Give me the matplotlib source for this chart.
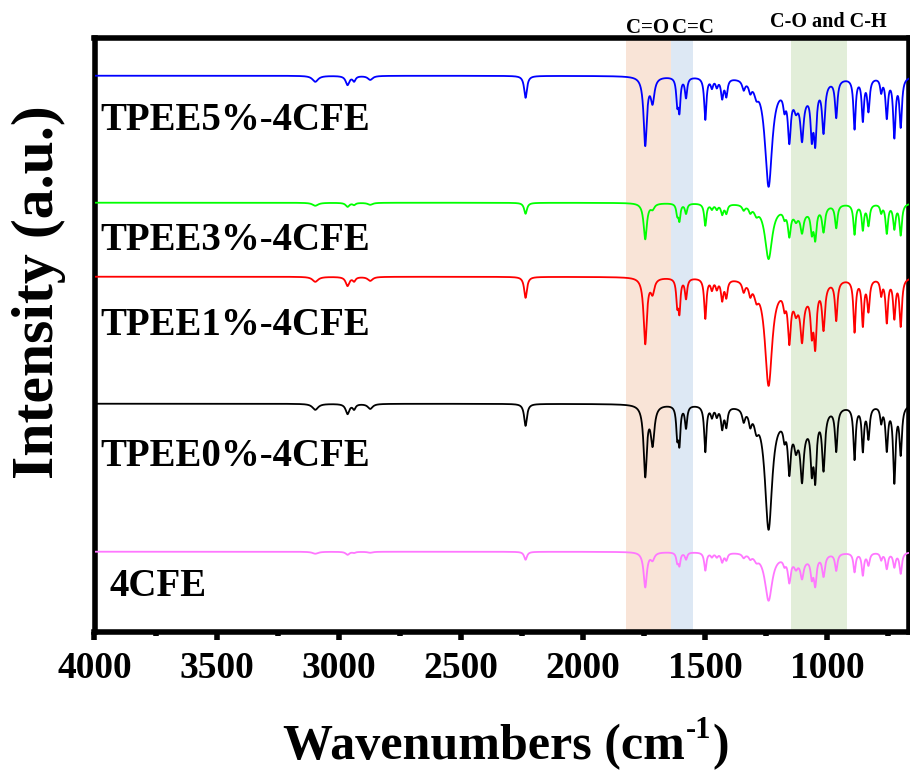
import numpy as np
import matplotlib
matplotlib.use("Agg")
import matplotlib.pyplot as plt

plt.rcParams['font.family'] = ['Liberation Serif', 'DejaVu Serif']
plt.rcParams['font.weight'] = 'bold'

# ---- data -----------------------------------------------------------------
samples = ["TPEE5%-4CFE", "TPEE3%-4CFE", "TPEE1%-4CFE", "TPEE0%-4CFE", "4CFE"]
colors = ["#0000ff", "#00ff00", "#ff0000", "#000000", "#ff77ff"]
baselines = [556, 429, 355, 228, 80]

# absorption bands (cm-1) and half widths; last entry is the broad fingerprint envelope
band_centers = [3096, 2964, 2937, 2871, 2235, 1745, 1715, 1614, 1605, 1578,
                1499, 1472, 1452, 1430, 1413, 1342, 1315, 1290, 1240, 1175,
                1155, 1128, 1103, 1063, 1049, 1015, 963, 888, 854, 831,
                779, 756, 725, 699, 1110]
band_hwhm = [14, 9, 7, 12, 7, 8, 9, 5, 5, 5.5,
             5.5, 6, 6, 6, 6, 7, 7, 10, 18, 6,
             7, 8, 7.5, 6, 6.5, 7, 6, 5.5, 5.5, 6,
             5, 6, 6, 6, 60]

depth_tpee5 = [6, 9, 5, 4, 22, 68, 24, 24, 31, 20,
               42, 9, 8, 19, 17, 9, 9, 10, 106, 15,
               47, 10, 40, 42, 51, 48, 37, 50, 41, 32,
               13, 39, 58, 48, 21]
depth_tpee3 = [3, 4, 2, 2, 11, 36, 5, 10, 16, 10,
               22, 5, 5, 10, 9, 5, 6, 7, 54, 7,
               25, 7, 19, 21, 29, 25, 23, 30, 25, 21,
               8, 29, 24, 31, 9]
depth_tpee1 = [5, 9, 4, 4, 21, 66, 14, 24, 31, 20,
               40, 10, 9, 20, 17, 10, 11, 12, 104, 13,
               47, 12, 40, 37, 54, 44, 39, 52, 45, 31,
               15, 43, 38, 47, 21]
depth_tpee0 = [6, 10, 5, 5, 22, 70, 38, 28, 35, 22,
               46, 10, 9, 21, 19, 12, 13, 14, 120, 14,
               47, 17, 48, 44, 57, 56, 42, 52, 43, 31,
               15, 43, 75, 47, 25]
depth_4cfe = [2, 3, 1, 1, 8, 35, 7, 9, 12, 7,
              18, 4, 4, 9, 7, 4, 4, 5, 47, 6,
              23, 7, 17, 18, 27, 21, 17, 19, 22, 12,
              7, 16, 14, 21, 8]
depths = [depth_tpee5, depth_tpee3, depth_tpee1, depth_tpee0, depth_4cfe]

# shaded assignment regions (cm-1)
region_bounds = [(1825, 1640), (1640, 1548), (1150, 920)]
region_colors = ["#f9e4d7", "#dde8f4", "#e2eed9"]

x_max, x_min = 4000, 665

# ---- figure -----------------------------------------------------------------
W, H = 910, 772
fig = plt.figure(figsize=(W / 100, H / 100), dpi=100)
ax = fig.add_axes([94.5 / W, 1 - 631.7 / H, (909 - 94.5) / W, 593.7 / H])

wn = np.linspace(x_max, x_min, 8000)
centers = np.array(band_centers, float)[:, None]
hw = np.array(band_hwhm, float)[:, None]
profiles = 1.0 / (1.0 + ((wn[None, :] - centers) / hw) ** 2)

for (a, b), c in zip(region_bounds, region_colors):
    ax.axvspan(b, a, color=c, lw=0, zorder=0)

for name, col, base, dep in zip(samples, colors, baselines, depths):
    y = base - np.array(dep, float) @ profiles
    ax.plot(wn, y, color=col, lw=1.3, zorder=3)

ax.set_xlim(x_max, x_min)
ax.set_ylim(0, 593.7)
ax.set_xticks(np.arange(4000, 999, -500))
ax.set_xticks(np.arange(3750, 700, -500), minor=True)
ax.set_yticks([])
ax.tick_params(axis='x', which='major', direction='out', length=6, width=4,
               labelsize=27, pad=8)
ax.tick_params(axis='x', which='minor', direction='out', length=3, width=4)
for s in ax.spines.values():
    s.set_linewidth(4)

# sample labels
label_pos = [(100, 130), (100, 250), (100, 335), (100, 466), (110, 596)]
for name, (px, py) in zip(samples, label_pos):
    fig.text(px / W, 1 - py / H, name, fontsize=28, ha='left', va='baseline')

fig.text(647.5 / W, 1 - 33.3 / H, "C=O", fontsize=15, ha='center', va='baseline')
fig.text(693 / W, 1 - 33.3 / H, "C=C", fontsize=15, ha='center', va='baseline')
fig.text(828 / W, 1 - 26.7 / H, "C-O and C-H", fontsize=14.5, ha='center', va='baseline')

fig.text(38.5 / W, 1 - 292 / H, "Intensity (a.u.)", fontsize=43, rotation=90,
         ha='center', va='center')

# x label with a small raised "-1"
renderer = fig.canvas.get_renderer()
xl_main = fig.text(0, 1 - 759 / H, "Wavenumbers (cm", fontsize=36, ha='left', va='baseline')
xl_sup = fig.text(0, 1 - 738 / H, "-1", fontsize=22, ha='left', va='baseline')
xl_tail = fig.text(0, 1 - 759 / H, ")", fontsize=36, ha='left', va='baseline')
w_main = xl_main.get_window_extent(renderer).width
w_sup = xl_sup.get_window_extent(renderer).width
w_tail = xl_tail.get_window_extent(renderer).width
x0 = 505 - (w_main + w_sup + w_tail) / 2
xl_main.set_x(x0 / W)
xl_sup.set_x((x0 + w_main + 1) / W)
xl_tail.set_x((x0 + w_main + w_sup + 2) / W)

fig.savefig("out.png", dpi=100)
